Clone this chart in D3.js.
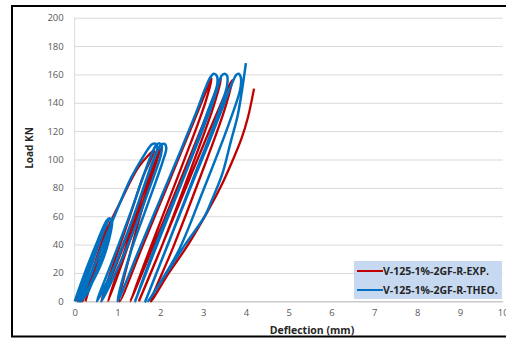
<!DOCTYPE html>
<html>
<head>
<meta charset="utf-8">
<script src="https://cdnjs.cloudflare.com/ajax/libs/d3/7.8.5/d3.min.js"></script>
<style>
  body { margin: 0; background: #fff; }
  svg { display: block; font-family: "Open Sans", "Liberation Sans", sans-serif; }
</style>
</head>
<body>
<div id="chart"></div>
<script>
// tick values
var xTicks = [0, 1, 2, 3, 4, 5, 6, 7, 8, 9, 10];
var yTicks = [0, 20, 40, 60, 80, 100, 120, 140, 160, 180, 200];

// series names
var seriesNames = ["V-125-1%-2GF-R-EXP.", "V-125-1%-2GF-R-THEO."];

// experimental curve: [deflection mm, load kN]
var expData = [
  [0.05, 0], [0.3, 20], [0.55, 40], [0.74, 53], [0.6, 38], [0.35, 15], [0.18, 0],
  [0.45, 25], [0.76, 53], [0.55, 30], [0.25, 0],
  [0.5, 25], [0.78, 52], [1.1, 72], [1.5, 95], [1.85, 106], [1.6, 88], [1.2, 52], [0.72, 10], [0.62, 0],
  [1.0, 28], [1.4, 60], [1.75, 88], [1.95, 107], [1.75, 90], [1.3, 48], [0.78, 0],
  [1.12, 28], [1.5, 62], [1.8, 88], [2.01, 108], [1.8, 88], [1.4, 46], [1.05, 0],
  [1.6, 40], [2.2, 84], [2.8, 128], [3.2, 157], [3.05, 140], [2.5, 95], [1.9, 48], [1.3, 0],
  [1.85, 40], [2.45, 84], [3.0, 125], [3.42, 157], [3.25, 138], [2.7, 92], [2.05, 40], [1.5, 0],
  [2.05, 40], [2.65, 84], [3.2, 124], [3.68, 156], [3.5, 135], [2.9, 85], [2.3, 38], [1.78, 0],
  [2.2, 20], [2.65, 40], [3.08, 62], [3.4, 80], [3.7, 100], [3.9, 115], [4.05, 130], [4.19, 150]
];

// theoretical curve: [deflection mm, load kN]
var theoData = [
  [0, 0], [0.25, 21], [0.5, 40], [0.68, 53], [0.76, 57.5], [0.82, 58.5], [0.86, 56], [0.8, 48], [0.55, 25], [0.3, 8], [0.08, 0],
  [0.35, 24], [0.58, 43], [0.72, 54], [0.8, 58], [0.85, 57.5], [0.84, 52], [0.6, 30], [0.3, 6], [0.12, 0],
  [0.4, 26], [0.62, 45], [0.76, 55], [0.82, 58.3], [0.87, 57], [0.85, 50], [0.6, 25], [0.15, 0],
  [0.5, 28], [0.9, 58], [1.3, 86], [1.6, 102], [1.74, 108.5], [1.82, 111], [1.9, 111], [1.93, 108], [1.8, 97], [1.4, 62], [0.95, 26], [0.52, 0],
  [0.9, 30], [1.3, 62], [1.6, 88], [1.8, 104], [1.9, 110], [1.97, 111.5], [2.03, 110], [2.02, 104], [1.75, 80], [1.25, 40], [0.63, 0],
  [1.0, 30], [1.4, 62], [1.7, 88], [1.92, 105], [2.02, 110.5], [2.1, 111], [2.14, 108], [2.05, 98], [1.7, 68], [1.3, 34], [1.0, 0],
  [1.5, 36], [2.0, 72], [2.5, 108], [2.85, 134], [3.05, 150], [3.17, 158], [3.25, 160.5], [3.32, 159], [3.33, 153], [3.1, 133], [2.6, 92], [2.0, 48], [1.41, 0],
  [1.9, 38], [2.4, 76], [2.9, 114], [3.2, 138], [3.35, 152], [3.43, 159], [3.5, 160.5], [3.56, 159], [3.56, 152], [3.3, 128], [2.75, 85], [2.2, 42], [1.65, 0],
  [2.15, 38], [2.65, 76], [3.15, 113], [3.5, 140], [3.68, 154], [3.77, 159.5], [3.83, 160.5], [3.88, 158], [3.87, 150], [3.6, 125], [3.0, 78], [2.4, 34], [1.72, 0],
  [2.15, 20], [2.58, 40], [3.04, 60], [3.2, 71], [3.45, 90], [3.65, 113], [3.8, 130], [3.9, 147], [4.0, 168]
];

var colors = ["#c00000", "#0070c0"];

var W = 506, H = 338;
var margin = { top: 17.7, right: 3.3, bottom: 36.7, left: 74.7 },
  width = W - margin.left - margin.right,
  height = H - margin.top - margin.bottom;

var svg = d3
  .select("#chart")
  .append("svg")
  .attr("width", W)
  .attr("height", H);

// outer frame (right edge runs off the picture)
svg
  .append("rect")
  .attr("x", 12)
  .attr("y", 6)
  .attr("width", 520)
  .attr("height", 330.5)
  .attr("fill", "none")
  .attr("stroke", "#000")
  .attr("stroke-width", 2);

var g = svg
  .append("g")
  .attr("transform", "translate(" + margin.left + "," + margin.top + ")");

var x = d3.scaleLinear().domain([0, 10]).range([0, width]);
var y = d3.scaleLinear().domain([0, 200]).range([height, 0]);

// gridlines
g.append("g")
  .attr("class", "grid")
  .call(d3.axisLeft(y).tickValues(yTicks).tickSize(-width).tickFormat(""))
  .call(function (s) {
    s.select(".domain").remove();
    s.selectAll("line").attr("stroke", "#d9d9d9").attr("stroke-width", 1);
  });

// y axis line
g.append("line")
  .attr("x1", 0).attr("x2", 0)
  .attr("y1", 0).attr("y2", height)
  .attr("stroke", "#d9d9d9");

// y tick labels
g.append("g")
  .call(d3.axisLeft(y).tickValues(yTicks).tickSize(0).tickPadding(11))
  .call(function (s) {
    s.select(".domain").remove();
    s.selectAll("text")
      .attr("fill", "#595959")
      .style("font-size", "9.5px")
      .style("font-family", "Open Sans, sans-serif");
  });

// x tick labels
g.append("g")
  .attr("transform", "translate(0," + height + ")")
  .call(d3.axisBottom(x).tickValues(xTicks).tickSize(0).tickPadding(8))
  .call(function (s) {
    s.select(".domain").attr("stroke", "#bfbfbf");
    s.selectAll("text")
      .attr("fill", "#595959")
      .style("font-size", "9.5px")
      .style("font-family", "Open Sans, sans-serif");
  });

var line = d3
  .line()
  .x(function (d) { return x(d[0]); })
  .y(function (d) { return y(d[1]); })
  .curve(d3.curveCatmullRom.alpha(0.5));

g.append("path")
  .datum(expData)
  .attr("d", line)
  .attr("fill", "none")
  .attr("stroke", colors[0])
  .attr("stroke-width", 2.3);

g.append("path")
  .datum(theoData)
  .attr("d", line)
  .attr("fill", "none")
  .attr("stroke", colors[1])
  .attr("stroke-width", 2.5);

// axis titles
svg.append("text")
  .attr("transform", "translate(33,148) rotate(-90)")
  .attr("text-anchor", "middle")
  .style("font-size", "10px")
  .style("font-weight", "bold")
  .attr("fill", "#262626")
  .text("Load KN");

svg.append("text")
  .attr("x", 312)
  .attr("y", 334)
  .attr("text-anchor", "middle")
  .style("font-size", "10.5px")
  .style("font-weight", "bold")
  .attr("fill", "#262626")
  .text("Deflection (mm)");

// legend
var legend = svg.append("g");
legend.append("rect")
  .attr("x", 354)
  .attr("y", 261)
  .attr("width", 148)
  .attr("height", 38)
  .attr("fill", "#c6d9f1");

var item = legend
  .selectAll(".item")
  .data(seriesNames)
  .enter()
  .append("g")
  .attr("class", "item")
  .attr("transform", function (d, i) {
    return "translate(357," + (271 + i * 19) + ")";
  });

item.append("line")
  .attr("x1", 0).attr("x2", 26)
  .attr("stroke", function (d, i) { return colors[i]; })
  .attr("stroke-width", 2);

item.append("text")
  .attr("x", 26)
  .attr("dy", "0.35em")
  .style("font-size", "10.5px")
  .style("font-weight", "bold")
  .attr("fill", "#262626")
  .text(function (d) { return d; });
</script>
</body>
</html>
